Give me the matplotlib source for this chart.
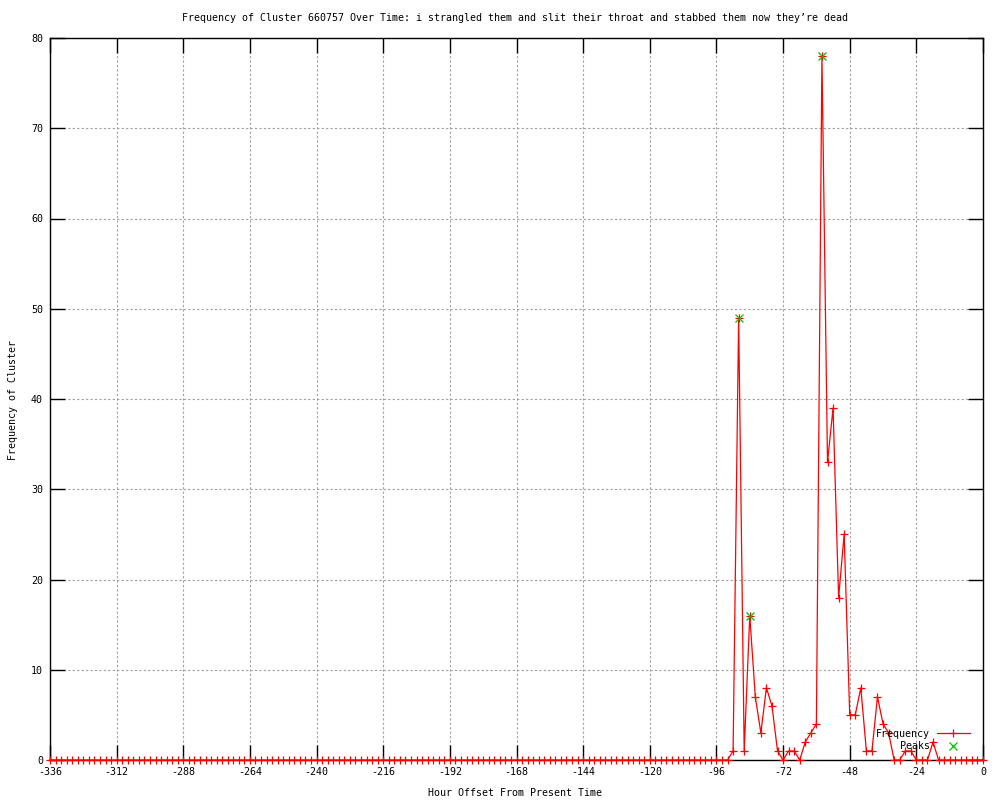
from matplotlib import pyplot as plt
import numpy as np

plt.rcParams['font.family'] = 'DejaVu Sans Mono'
plt.rcParams['axes.unicode_minus'] = False

# Hourly bins (2 hour steps) from two weeks ago to now
hours = np.arange(-336, 1, 2)
# Counts: quiet until -90, burst, quiet again after -18
early = [0] * 123
burst = [1, 49, 1, 16, 7, 3, 8, 6, 1, 0, 1, 1, 0, 2, 3, 4, 78, 33, 39,
         18, 25, 5, 5, 8, 1, 1, 7, 4, 3, 0, 0, 1, 1, 0, 0, 0, 2]
late = [0] * 9
freq = early + burst + late

peak_hours = [-88, -84, -58]
peak_vals = [49, 16, 78]

xticks = list(range(-336, 1, 24))
yticks = list(range(0, 81, 10))

title = ('Frequency of Cluster 660757 Over Time: i strangled them and slit '
         'their throat and stabbed them now they\u2019re dead')

fs = 7.2
fig = plt.figure(figsize=(10, 8), dpi=100)
ax = fig.add_axes([0.05, 0.05, 0.933, 0.9025])

ax.plot(hours, freq, color='red', lw=0.9, marker='+', ms=6, mew=0.9,
        label='Frequency', clip_on=False, zorder=3)
ax.plot(peak_hours, peak_vals, ls='none', color='#00c000', marker='x',
        ms=5.5, mew=0.9, label='Peaks', clip_on=False, zorder=4)

ax.set_xlim(-336, 0)
ax.set_ylim(0, 80)
ax.set_xticks(xticks)
ax.set_yticks(yticks)
ax.set_xticklabels([str(t) for t in xticks])
ax.tick_params(direction='in', length=11, width=1, top=True, right=True,
               labelsize=fs, pad=5, colors='black')
ax.grid(True, color='#a0a0a0', ls=(0, (2, 2)), lw=0.8)
for s in ax.spines.values():
    s.set_linewidth(1)

fig.text(0.515, 1 - 18 / 800, title, ha='center', va='center', fontsize=fs)
fig.text(0.515, 1 - 793 / 800, 'Hour Offset From Present Time',
         ha='center', va='center', fontsize=fs)
fig.text(0.013, 0.5, 'Frequency of Cluster', rotation=90,
         ha='center', va='center', fontsize=fs)

ax.legend(loc='lower right', bbox_to_anchor=(0.986, 0.012), frameon=False,
          markerfirst=False, fontsize=fs, handlelength=3.3,
          handletextpad=0.7, labelspacing=0.25, borderpad=0,
          borderaxespad=0, numpoints=1)

fig.savefig('out.png', dpi=100)
